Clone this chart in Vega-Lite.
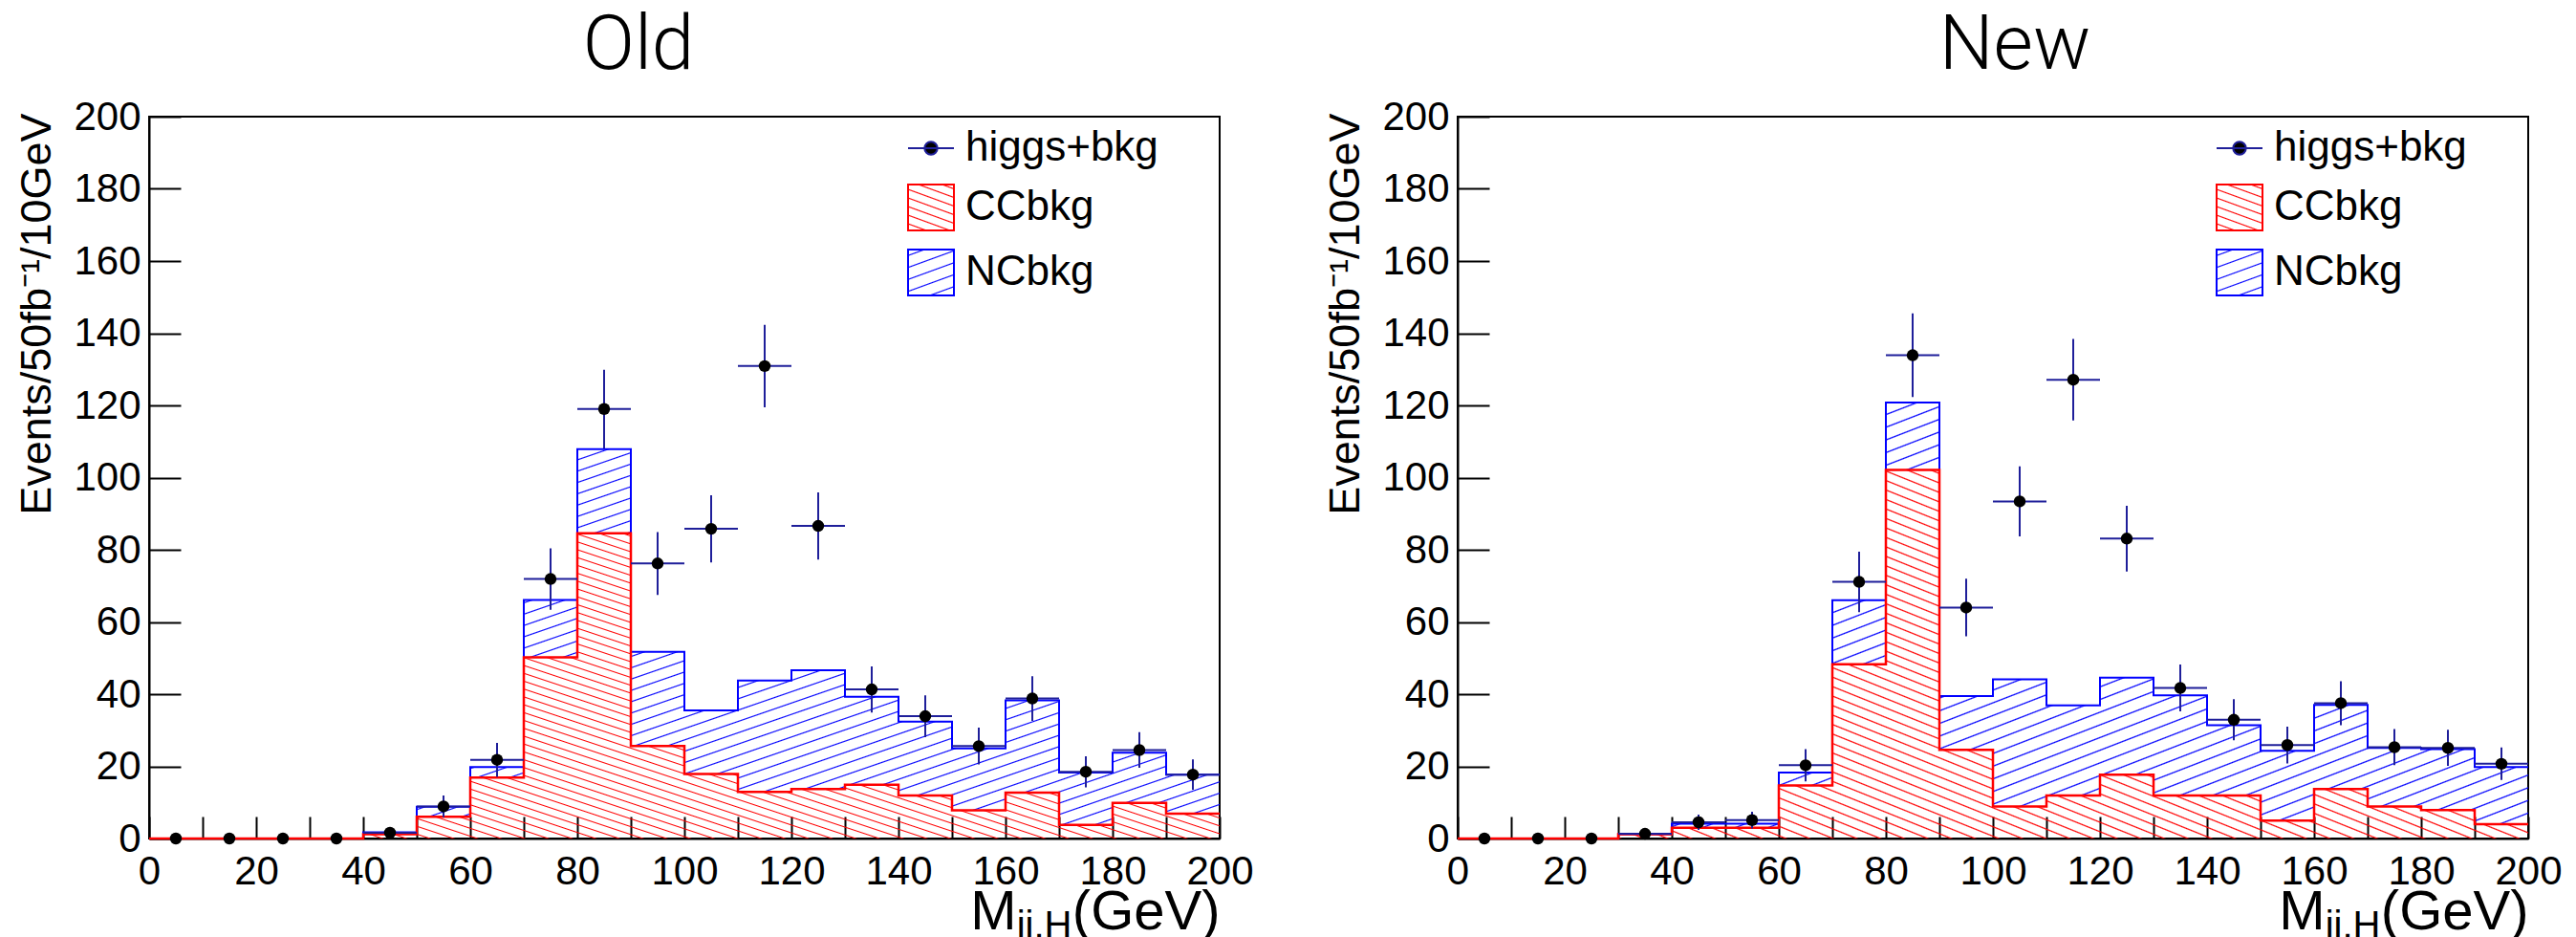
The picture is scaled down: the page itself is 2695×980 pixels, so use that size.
{
"$schema":"https://vega.github.io/schema/vega-lite/v6.json",
"padding":{"left":15,"top":7,"right":0,"bottom":0},
"spacing":249,
"bounds":"flush",
"resolve":{"scale":{"x":"independent","y":"independent","stroke":"independent"},"legend":{"stroke":"independent"}},
"datasets":{
"oh":[{"e":0,"cc":0,"tot":0},{"e":10,"cc":0,"tot":0},{"e":20,"cc":0,"tot":0},{"e":30,"cc":0,"tot":0},{"e":40,"cc":1.2,"tot":1.7},{"e":50,"cc":6,"tot":8.8},{"e":60,"cc":16.9,"tot":19.8},{"e":70,"cc":50.2,"tot":66.1},{"e":80,"cc":84.6,"tot":107.9},{"e":90,"cc":25.6,"tot":51.7},{"e":100,"cc":17.9,"tot":35.5},{"e":110,"cc":12.9,"tot":43.8},{"e":120,"cc":13.7,"tot":46.6},{"e":130,"cc":14.9,"tot":39.3},{"e":140,"cc":11.9,"tot":32.4},{"e":150,"cc":7.8,"tot":25},{"e":160,"cc":12.7,"tot":38.3},{"e":170,"cc":3.8,"tot":18.3},{"e":180,"cc":9.9,"tot":23.8},{"e":190,"cc":6.9,"tot":17.7},{"e":200,"cc":6.9,"tot":17.7}],
"op":[{"c":5,"l":0,"r":10,"n":0,"lo":0,"hi":0},{"c":15,"l":10,"r":20,"n":0,"lo":0,"hi":0},{"c":25,"l":20,"r":30,"n":0,"lo":0,"hi":0},{"c":35,"l":30,"r":40,"n":0,"lo":0,"hi":0},{"c":45,"l":40,"r":50,"n":1.6,"lo":0.3,"hi":2.9},{"c":55,"l":50,"r":60,"n":8.9,"lo":5.9,"hi":11.9},{"c":65,"l":60,"r":70,"n":21.8,"lo":17.1,"hi":26.5},{"c":75,"l":70,"r":80,"n":71.9,"lo":63.4,"hi":80.4},{"c":85,"l":80,"r":90,"n":119,"lo":108.1,"hi":129.9},{"c":95,"l":90,"r":100,"n":76.2,"lo":67.5,"hi":84.9},{"c":105,"l":100,"r":110,"n":85.8,"lo":76.5,"hi":95.1},{"c":115,"l":110,"r":120,"n":130.9,"lo":119.5,"hi":142.3},{"c":125,"l":120,"r":130,"n":86.6,"lo":77.3,"hi":95.9},{"c":135,"l":130,"r":140,"n":41.3,"lo":34.9,"hi":47.7},{"c":145,"l":140,"r":150,"n":33.9,"lo":28.1,"hi":39.7},{"c":155,"l":150,"r":160,"n":25.6,"lo":20.5,"hi":30.7},{"c":165,"l":160,"r":170,"n":38.8,"lo":32.6,"hi":45},{"c":175,"l":170,"r":180,"n":18.5,"lo":14.2,"hi":22.8},{"c":185,"l":180,"r":190,"n":24.5,"lo":19.6,"hi":29.5},{"c":195,"l":190,"r":200,"n":17.7,"lo":13.5,"hi":21.9}],
"nh":[{"e":0,"cc":0,"tot":0},{"e":10,"cc":0,"tot":0},{"e":20,"cc":0,"tot":0},{"e":30,"cc":1.2,"tot":1.2},{"e":40,"cc":3,"tot":4.1},{"e":50,"cc":3,"tot":4.1},{"e":60,"cc":14.7,"tot":18.3},{"e":70,"cc":48.3,"tot":66},{"e":80,"cc":102.1,"tot":120.8},{"e":90,"cc":24.6,"tot":39.5},{"e":100,"cc":8.9,"tot":44.1},{"e":110,"cc":11.9,"tot":36.9},{"e":120,"cc":17.7,"tot":44.6},{"e":130,"cc":11.9,"tot":39.7},{"e":140,"cc":11.9,"tot":31.4},{"e":150,"cc":5,"tot":24.3},{"e":160,"cc":13.7,"tot":37},{"e":170,"cc":8.9,"tot":25.1},{"e":180,"cc":7.9,"tot":24.8},{"e":190,"cc":4,"tot":19.8},{"e":200,"cc":4,"tot":19.8}],
"np":[{"c":5,"l":0,"r":10,"n":0,"lo":0,"hi":0},{"c":15,"l":10,"r":20,"n":0,"lo":0,"hi":0},{"c":25,"l":20,"r":30,"n":0,"lo":0,"hi":0},{"c":35,"l":30,"r":40,"n":1.3,"lo":0.2,"hi":2.4},{"c":45,"l":40,"r":50,"n":4.5,"lo":2.4,"hi":6.6},{"c":55,"l":50,"r":60,"n":5.1,"lo":2.8,"hi":7.4},{"c":65,"l":60,"r":70,"n":20.3,"lo":15.8,"hi":24.8},{"c":75,"l":70,"r":80,"n":71.1,"lo":62.7,"hi":79.5},{"c":85,"l":80,"r":90,"n":133.9,"lo":122.3,"hi":145.5},{"c":95,"l":90,"r":100,"n":64,"lo":56,"hi":72},{"c":105,"l":100,"r":110,"n":93.4,"lo":83.7,"hi":103.1},{"c":115,"l":110,"r":120,"n":127.1,"lo":115.8,"hi":138.4},{"c":125,"l":120,"r":130,"n":83.1,"lo":74,"hi":92.2},{"c":135,"l":130,"r":140,"n":41.7,"lo":35.2,"hi":48.2},{"c":145,"l":140,"r":150,"n":32.9,"lo":27.2,"hi":38.6},{"c":155,"l":150,"r":160,"n":25.9,"lo":20.8,"hi":31},{"c":165,"l":160,"r":170,"n":37.5,"lo":31.4,"hi":43.6},{"c":175,"l":170,"r":180,"n":25.3,"lo":20.3,"hi":30.3},{"c":185,"l":180,"r":190,"n":25.1,"lo":20.1,"hi":30.1},{"c":195,"l":190,"r":200,"n":20.7,"lo":16.2,"hi":25.2}]
},
"hconcat":[
{
"width":1120,"height":755,
"title":{"text":"Old","dx":-48},
"resolve":{"scale":{"x":"independent","y":"independent"}},
"layer":[
{"layer":[
{"data":{"name":"oh"},"mark":{"type":"area","interpolate":"step-after","fill":{"gradient":"linear","x1":-0.4601,"y1":0,"x2":0.9914,"y2":1.5312,"stops":[
{"offset":0.149,"color":"#00f0"},{"offset":0.15,"color":"blue"},{"offset":0.151,"color":"#00f0"},
{"offset":0.159,"color":"#00f0"},{"offset":0.16,"color":"blue"},{"offset":0.161,"color":"#00f0"},
{"offset":0.169,"color":"#00f0"},{"offset":0.17,"color":"blue"},{"offset":0.171,"color":"#00f0"},
{"offset":0.179,"color":"#00f0"},{"offset":0.18,"color":"blue"},{"offset":0.181,"color":"#00f0"},
{"offset":0.189,"color":"#00f0"},{"offset":0.19,"color":"blue"},{"offset":0.191,"color":"#00f0"},
{"offset":0.199,"color":"#00f0"},{"offset":0.2,"color":"blue"},{"offset":0.201,"color":"#00f0"},
{"offset":0.209,"color":"#00f0"},{"offset":0.21,"color":"blue"},{"offset":0.211,"color":"#00f0"},
{"offset":0.219,"color":"#00f0"},{"offset":0.22,"color":"blue"},{"offset":0.221,"color":"#00f0"},
{"offset":0.229,"color":"#00f0"},{"offset":0.23,"color":"blue"},{"offset":0.231,"color":"#00f0"},
{"offset":0.239,"color":"#00f0"},{"offset":0.24,"color":"blue"},{"offset":0.241,"color":"#00f0"},
{"offset":0.249,"color":"#00f0"},{"offset":0.25,"color":"blue"},{"offset":0.251,"color":"#00f0"},
{"offset":0.259,"color":"#00f0"},{"offset":0.26,"color":"blue"},{"offset":0.261,"color":"#00f0"},
{"offset":0.269,"color":"#00f0"},{"offset":0.27,"color":"blue"},{"offset":0.271,"color":"#00f0"},
{"offset":0.279,"color":"#00f0"},{"offset":0.28,"color":"blue"},{"offset":0.281,"color":"#00f0"},
{"offset":0.289,"color":"#00f0"},{"offset":0.29,"color":"blue"},{"offset":0.291,"color":"#00f0"},
{"offset":0.299,"color":"#00f0"},{"offset":0.3,"color":"blue"},{"offset":0.301,"color":"#00f0"},
{"offset":0.309,"color":"#00f0"},{"offset":0.31,"color":"blue"},{"offset":0.311,"color":"#00f0"},
{"offset":0.319,"color":"#00f0"},{"offset":0.32,"color":"blue"},{"offset":0.321,"color":"#00f0"},
{"offset":0.329,"color":"#00f0"},{"offset":0.33,"color":"blue"},{"offset":0.331,"color":"#00f0"},
{"offset":0.339,"color":"#00f0"},{"offset":0.34,"color":"blue"},{"offset":0.341,"color":"#00f0"},
{"offset":0.349,"color":"#00f0"},{"offset":0.35,"color":"blue"},{"offset":0.351,"color":"#00f0"},
{"offset":0.359,"color":"#00f0"},{"offset":0.36,"color":"blue"},{"offset":0.361,"color":"#00f0"},
{"offset":0.369,"color":"#00f0"},{"offset":0.37,"color":"blue"},{"offset":0.371,"color":"#00f0"},
{"offset":0.379,"color":"#00f0"},{"offset":0.38,"color":"blue"},{"offset":0.381,"color":"#00f0"},
{"offset":0.389,"color":"#00f0"},{"offset":0.39,"color":"blue"},{"offset":0.391,"color":"#00f0"},
{"offset":0.399,"color":"#00f0"},{"offset":0.4,"color":"blue"},{"offset":0.401,"color":"#00f0"},
{"offset":0.409,"color":"#00f0"},{"offset":0.41,"color":"blue"},{"offset":0.411,"color":"#00f0"},
{"offset":0.419,"color":"#00f0"},{"offset":0.42,"color":"blue"},{"offset":0.421,"color":"#00f0"},
{"offset":0.429,"color":"#00f0"},{"offset":0.43,"color":"blue"},{"offset":0.431,"color":"#00f0"},
{"offset":0.439,"color":"#00f0"},{"offset":0.44,"color":"blue"},{"offset":0.441,"color":"#00f0"},
{"offset":0.449,"color":"#00f0"},{"offset":0.45,"color":"blue"},{"offset":0.451,"color":"#00f0"},
{"offset":0.459,"color":"#00f0"},{"offset":0.46,"color":"blue"},{"offset":0.461,"color":"#00f0"},
{"offset":0.469,"color":"#00f0"},{"offset":0.47,"color":"blue"},{"offset":0.471,"color":"#00f0"},
{"offset":0.479,"color":"#00f0"},{"offset":0.48,"color":"blue"},{"offset":0.481,"color":"#00f0"},
{"offset":0.489,"color":"#00f0"},{"offset":0.49,"color":"blue"},{"offset":0.491,"color":"#00f0"},
{"offset":0.499,"color":"#00f0"},{"offset":0.5,"color":"blue"},{"offset":0.501,"color":"#00f0"},
{"offset":0.509,"color":"#00f0"},{"offset":0.51,"color":"blue"},{"offset":0.511,"color":"#00f0"},
{"offset":0.519,"color":"#00f0"},{"offset":0.52,"color":"blue"},{"offset":0.521,"color":"#00f0"},
{"offset":0.529,"color":"#00f0"},{"offset":0.53,"color":"blue"},{"offset":0.531,"color":"#00f0"},
{"offset":0.539,"color":"#00f0"},{"offset":0.54,"color":"blue"},{"offset":0.541,"color":"#00f0"},
{"offset":0.549,"color":"#00f0"},{"offset":0.55,"color":"blue"},{"offset":0.551,"color":"#00f0"},
{"offset":0.559,"color":"#00f0"},{"offset":0.56,"color":"blue"},{"offset":0.561,"color":"#00f0"},
{"offset":0.569,"color":"#00f0"},{"offset":0.57,"color":"blue"},{"offset":0.571,"color":"#00f0"},
{"offset":0.579,"color":"#00f0"},{"offset":0.58,"color":"blue"},{"offset":0.581,"color":"#00f0"},
{"offset":0.589,"color":"#00f0"},{"offset":0.59,"color":"blue"},{"offset":0.591,"color":"#00f0"},
{"offset":0.599,"color":"#00f0"},{"offset":0.6,"color":"blue"},{"offset":0.601,"color":"#00f0"},
{"offset":0.609,"color":"#00f0"},{"offset":0.61,"color":"blue"},{"offset":0.611,"color":"#00f0"},
{"offset":0.619,"color":"#00f0"},{"offset":0.62,"color":"blue"},{"offset":0.621,"color":"#00f0"},
{"offset":0.629,"color":"#00f0"},{"offset":0.63,"color":"blue"},{"offset":0.631,"color":"#00f0"},
{"offset":0.639,"color":"#00f0"},{"offset":0.64,"color":"blue"},{"offset":0.641,"color":"#00f0"},
{"offset":0.649,"color":"#00f0"},{"offset":0.65,"color":"blue"},{"offset":0.651,"color":"#00f0"},
{"offset":0.659,"color":"#00f0"},{"offset":0.66,"color":"blue"},{"offset":0.661,"color":"#00f0"},
{"offset":0.669,"color":"#00f0"},{"offset":0.67,"color":"blue"},{"offset":0.671,"color":"#00f0"},
{"offset":0.679,"color":"#00f0"},{"offset":0.68,"color":"blue"},{"offset":0.681,"color":"#00f0"},
{"offset":0.689,"color":"#00f0"},{"offset":0.69,"color":"blue"},{"offset":0.691,"color":"#00f0"},
{"offset":0.699,"color":"#00f0"},{"offset":0.7,"color":"blue"},{"offset":0.701,"color":"#00f0"},
{"offset":0.709,"color":"#00f0"},{"offset":0.71,"color":"blue"},{"offset":0.711,"color":"#00f0"},
{"offset":0.719,"color":"#00f0"},{"offset":0.72,"color":"blue"},{"offset":0.721,"color":"#00f0"},
{"offset":0.729,"color":"#00f0"},{"offset":0.73,"color":"blue"},{"offset":0.731,"color":"#00f0"},
{"offset":0.739,"color":"#00f0"},{"offset":0.74,"color":"blue"},{"offset":0.741,"color":"#00f0"},
{"offset":0.749,"color":"#00f0"},{"offset":0.75,"color":"blue"},{"offset":0.751,"color":"#00f0"},
{"offset":0.759,"color":"#00f0"},{"offset":0.76,"color":"blue"},{"offset":0.761,"color":"#00f0"},
{"offset":0.769,"color":"#00f0"},{"offset":0.77,"color":"blue"},{"offset":0.771,"color":"#00f0"},
{"offset":0.779,"color":"#00f0"},{"offset":0.78,"color":"blue"},{"offset":0.781,"color":"#00f0"},
{"offset":0.789,"color":"#00f0"},{"offset":0.79,"color":"blue"},{"offset":0.791,"color":"#00f0"},
{"offset":0.799,"color":"#00f0"},{"offset":0.8,"color":"blue"},{"offset":0.801,"color":"#00f0"},
{"offset":0.809,"color":"#00f0"},{"offset":0.81,"color":"blue"},{"offset":0.811,"color":"#00f0"},
{"offset":0.819,"color":"#00f0"},{"offset":0.82,"color":"blue"},{"offset":0.821,"color":"#00f0"}
]}},
"encoding":{
"x":{"field":"e","type":"quantitative","scale":{"domain":[0,200]},"axis":{"orient":"bottom","values":[0,5,10,15,20,25,30,35,40,45,50,55,60,65,70,75,80,85,90,95,100,105,110,115,120,125,130,135,140,145,150,155,160,165,170,175,180,185,190,195,200],"labelExpr":"datum.value % 20 === 0 ? datum.label : ''","tickSize":-23,"labelPadding":37,"title":"(GeV)","titleX":1120,"titleY":94,"titleAlign":"right","titleBaseline":"alphabetic","titleFontSize":58,"encode":{"ticks":{"update":{"y2":[{"test":"datum.value % 20 === 0","value":-23},{"value":-11}]}}}}},
"y":{"field":"tot","type":"quantitative","scale":{"domain":[0,200]},"axis":{"orient":"left","values":[0,5,10,15,20,25,30,35,40,45,50,55,60,65,70,75,80,85,90,95,100,105,110,115,120,125,130,135,140,145,150,155,160,165,170,175,180,185,190,195,200],"labelExpr":"datum.value % 20 === 0 ? datum.label : ''","tickSize":-33,"labelPadding":42,"title":"Events/50fb⁻¹/10GeV","titleX":-104,"titleY":-4,"titleAlign":"right","titleAngle":270,"titleBaseline":"alphabetic","titleFontSize":45,"encode":{"ticks":{"update":{"x2":[{"test":"datum.value % 20 === 0","value":33},{"value":17}]}}}}},
"y2":{"field":"cc"}}},
{"data":{"name":"oh"},"mark":{"type":"area","interpolate":"step-after","fill":{"gradient":"linear","x1":1.1045,"y1":0,"x2":-0.1668,"y2":1.0918,"stops":[
{"offset":0.0387,"color":"#f000"},{"offset":0.04,"color":"red"},{"offset":0.0413,"color":"#f000"},
{"offset":0.0487,"color":"#f000"},{"offset":0.05,"color":"red"},{"offset":0.0513,"color":"#f000"},
{"offset":0.0587,"color":"#f000"},{"offset":0.06,"color":"red"},{"offset":0.0613,"color":"#f000"},
{"offset":0.0687,"color":"#f000"},{"offset":0.07,"color":"red"},{"offset":0.0713,"color":"#f000"},
{"offset":0.0787,"color":"#f000"},{"offset":0.08,"color":"red"},{"offset":0.0813,"color":"#f000"},
{"offset":0.0887,"color":"#f000"},{"offset":0.09,"color":"red"},{"offset":0.0913,"color":"#f000"},
{"offset":0.0987,"color":"#f000"},{"offset":0.1,"color":"red"},{"offset":0.1013,"color":"#f000"},
{"offset":0.1087,"color":"#f000"},{"offset":0.11,"color":"red"},{"offset":0.1113,"color":"#f000"},
{"offset":0.1187,"color":"#f000"},{"offset":0.12,"color":"red"},{"offset":0.1213,"color":"#f000"},
{"offset":0.1287,"color":"#f000"},{"offset":0.13,"color":"red"},{"offset":0.1313,"color":"#f000"},
{"offset":0.1387,"color":"#f000"},{"offset":0.14,"color":"red"},{"offset":0.1413,"color":"#f000"},
{"offset":0.1487,"color":"#f000"},{"offset":0.15,"color":"red"},{"offset":0.1513,"color":"#f000"},
{"offset":0.1587,"color":"#f000"},{"offset":0.16,"color":"red"},{"offset":0.1613,"color":"#f000"},
{"offset":0.1687,"color":"#f000"},{"offset":0.17,"color":"red"},{"offset":0.1713,"color":"#f000"},
{"offset":0.1787,"color":"#f000"},{"offset":0.18,"color":"red"},{"offset":0.1813,"color":"#f000"},
{"offset":0.1887,"color":"#f000"},{"offset":0.19,"color":"red"},{"offset":0.1913,"color":"#f000"},
{"offset":0.1987,"color":"#f000"},{"offset":0.2,"color":"red"},{"offset":0.2013,"color":"#f000"},
{"offset":0.2087,"color":"#f000"},{"offset":0.21,"color":"red"},{"offset":0.2113,"color":"#f000"},
{"offset":0.2187,"color":"#f000"},{"offset":0.22,"color":"red"},{"offset":0.2213,"color":"#f000"},
{"offset":0.2287,"color":"#f000"},{"offset":0.23,"color":"red"},{"offset":0.2313,"color":"#f000"},
{"offset":0.2387,"color":"#f000"},{"offset":0.24,"color":"red"},{"offset":0.2413,"color":"#f000"},
{"offset":0.2487,"color":"#f000"},{"offset":0.25,"color":"red"},{"offset":0.2513,"color":"#f000"},
{"offset":0.2587,"color":"#f000"},{"offset":0.26,"color":"red"},{"offset":0.2613,"color":"#f000"},
{"offset":0.2687,"color":"#f000"},{"offset":0.27,"color":"red"},{"offset":0.2713,"color":"#f000"},
{"offset":0.2787,"color":"#f000"},{"offset":0.28,"color":"red"},{"offset":0.2813,"color":"#f000"},
{"offset":0.2887,"color":"#f000"},{"offset":0.29,"color":"red"},{"offset":0.2913,"color":"#f000"},
{"offset":0.2987,"color":"#f000"},{"offset":0.3,"color":"red"},{"offset":0.3013,"color":"#f000"},
{"offset":0.3087,"color":"#f000"},{"offset":0.31,"color":"red"},{"offset":0.3113,"color":"#f000"},
{"offset":0.3187,"color":"#f000"},{"offset":0.32,"color":"red"},{"offset":0.3213,"color":"#f000"},
{"offset":0.3287,"color":"#f000"},{"offset":0.33,"color":"red"},{"offset":0.3313,"color":"#f000"},
{"offset":0.3387,"color":"#f000"},{"offset":0.34,"color":"red"},{"offset":0.3413,"color":"#f000"},
{"offset":0.3487,"color":"#f000"},{"offset":0.35,"color":"red"},{"offset":0.3513,"color":"#f000"},
{"offset":0.3587,"color":"#f000"},{"offset":0.36,"color":"red"},{"offset":0.3613,"color":"#f000"},
{"offset":0.3687,"color":"#f000"},{"offset":0.37,"color":"red"},{"offset":0.3713,"color":"#f000"},
{"offset":0.3787,"color":"#f000"},{"offset":0.38,"color":"red"},{"offset":0.3813,"color":"#f000"},
{"offset":0.3887,"color":"#f000"},{"offset":0.39,"color":"red"},{"offset":0.3913,"color":"#f000"},
{"offset":0.3987,"color":"#f000"},{"offset":0.4,"color":"red"},{"offset":0.4013,"color":"#f000"},
{"offset":0.4087,"color":"#f000"},{"offset":0.41,"color":"red"},{"offset":0.4113,"color":"#f000"},
{"offset":0.4187,"color":"#f000"},{"offset":0.42,"color":"red"},{"offset":0.4213,"color":"#f000"},
{"offset":0.4287,"color":"#f000"},{"offset":0.43,"color":"red"},{"offset":0.4313,"color":"#f000"},
{"offset":0.4387,"color":"#f000"},{"offset":0.44,"color":"red"},{"offset":0.4413,"color":"#f000"},
{"offset":0.4487,"color":"#f000"},{"offset":0.45,"color":"red"},{"offset":0.4513,"color":"#f000"},
{"offset":0.4587,"color":"#f000"},{"offset":0.46,"color":"red"},{"offset":0.4613,"color":"#f000"},
{"offset":0.4687,"color":"#f000"},{"offset":0.47,"color":"red"},{"offset":0.4713,"color":"#f000"},
{"offset":0.4787,"color":"#f000"},{"offset":0.48,"color":"red"},{"offset":0.4813,"color":"#f000"},
{"offset":0.4887,"color":"#f000"},{"offset":0.49,"color":"red"},{"offset":0.4913,"color":"#f000"},
{"offset":0.4987,"color":"#f000"},{"offset":0.5,"color":"red"},{"offset":0.5013,"color":"#f000"},
{"offset":0.5087,"color":"#f000"},{"offset":0.51,"color":"red"},{"offset":0.5113,"color":"#f000"},
{"offset":0.5187,"color":"#f000"},{"offset":0.52,"color":"red"},{"offset":0.5213,"color":"#f000"},
{"offset":0.5287,"color":"#f000"},{"offset":0.53,"color":"red"},{"offset":0.5313,"color":"#f000"},
{"offset":0.5387,"color":"#f000"},{"offset":0.54,"color":"red"},{"offset":0.5413,"color":"#f000"},
{"offset":0.5487,"color":"#f000"},{"offset":0.55,"color":"red"},{"offset":0.5513,"color":"#f000"},
{"offset":0.5587,"color":"#f000"},{"offset":0.56,"color":"red"},{"offset":0.5613,"color":"#f000"},
{"offset":0.5687,"color":"#f000"},{"offset":0.57,"color":"red"},{"offset":0.5713,"color":"#f000"},
{"offset":0.5787,"color":"#f000"},{"offset":0.58,"color":"red"},{"offset":0.5813,"color":"#f000"},
{"offset":0.5887,"color":"#f000"},{"offset":0.59,"color":"red"},{"offset":0.5913,"color":"#f000"},
{"offset":0.5987,"color":"#f000"},{"offset":0.6,"color":"red"},{"offset":0.6013,"color":"#f000"},
{"offset":0.6087,"color":"#f000"},{"offset":0.61,"color":"red"},{"offset":0.6113,"color":"#f000"},
{"offset":0.6187,"color":"#f000"},{"offset":0.62,"color":"red"},{"offset":0.6213,"color":"#f000"},
{"offset":0.6287,"color":"#f000"},{"offset":0.63,"color":"red"},{"offset":0.6313,"color":"#f000"},
{"offset":0.6387,"color":"#f000"},{"offset":0.64,"color":"red"},{"offset":0.6413,"color":"#f000"},
{"offset":0.6487,"color":"#f000"},{"offset":0.65,"color":"red"},{"offset":0.6513,"color":"#f000"},
{"offset":0.6587,"color":"#f000"},{"offset":0.66,"color":"red"},{"offset":0.6613,"color":"#f000"},
{"offset":0.6687,"color":"#f000"},{"offset":0.67,"color":"red"},{"offset":0.6713,"color":"#f000"},
{"offset":0.6787,"color":"#f000"},{"offset":0.68,"color":"red"},{"offset":0.6813,"color":"#f000"},
{"offset":0.6887,"color":"#f000"},{"offset":0.69,"color":"red"},{"offset":0.6913,"color":"#f000"},
{"offset":0.6987,"color":"#f000"},{"offset":0.7,"color":"red"},{"offset":0.7013,"color":"#f000"},
{"offset":0.7087,"color":"#f000"},{"offset":0.71,"color":"red"},{"offset":0.7113,"color":"#f000"},
{"offset":0.7187,"color":"#f000"},{"offset":0.72,"color":"red"},{"offset":0.7213,"color":"#f000"},
{"offset":0.7287,"color":"#f000"},{"offset":0.73,"color":"red"},{"offset":0.7313,"color":"#f000"},
{"offset":0.7387,"color":"#f000"},{"offset":0.74,"color":"red"},{"offset":0.7413,"color":"#f000"},
{"offset":0.7487,"color":"#f000"},{"offset":0.75,"color":"red"},{"offset":0.7513,"color":"#f000"},
{"offset":0.7587,"color":"#f000"},{"offset":0.76,"color":"red"},{"offset":0.7613,"color":"#f000"},
{"offset":0.7687,"color":"#f000"},{"offset":0.77,"color":"red"},{"offset":0.7713,"color":"#f000"},
{"offset":0.7787,"color":"#f000"},{"offset":0.78,"color":"red"},{"offset":0.7813,"color":"#f000"},
{"offset":0.7887,"color":"#f000"},{"offset":0.79,"color":"red"},{"offset":0.7913,"color":"#f000"},
{"offset":0.7987,"color":"#f000"},{"offset":0.8,"color":"red"},{"offset":0.8013,"color":"#f000"},
{"offset":0.8087,"color":"#f000"},{"offset":0.81,"color":"red"},{"offset":0.8113,"color":"#f000"},
{"offset":0.8187,"color":"#f000"},{"offset":0.82,"color":"red"},{"offset":0.8213,"color":"#f000"},
{"offset":0.8287,"color":"#f000"},{"offset":0.83,"color":"red"},{"offset":0.8313,"color":"#f000"},
{"offset":0.8387,"color":"#f000"},{"offset":0.84,"color":"red"},{"offset":0.8413,"color":"#f000"},
{"offset":0.8487,"color":"#f000"},{"offset":0.85,"color":"red"},{"offset":0.8513,"color":"#f000"},
{"offset":0.8587,"color":"#f000"},{"offset":0.86,"color":"red"},{"offset":0.8613,"color":"#f000"},
{"offset":0.8687,"color":"#f000"},{"offset":0.87,"color":"red"},{"offset":0.8713,"color":"#f000"},
{"offset":0.8787,"color":"#f000"},{"offset":0.88,"color":"red"},{"offset":0.8813,"color":"#f000"},
{"offset":0.8887,"color":"#f000"},{"offset":0.89,"color":"red"},{"offset":0.8913,"color":"#f000"}
]}},
"encoding":{"x":{"field":"e","type":"quantitative"},"y":{"field":"cc","type":"quantitative"}}},
{"data":{"name":"oh"},"mark":{"type":"line","interpolate":"step-after","strokeWidth":2},
"encoding":{"x":{"field":"e","type":"quantitative"},"y":{"field":"tot","type":"quantitative"},
"stroke":{"datum":"NCbkg","type":"nominal","scale":{"domain":["higgs+bkg","CCbkg","NCbkg"],"range":["#1f1f9a","red","blue"]},
"legend":{"orient":"none","legendX":793,"legendY":8,"direction":"vertical","title":null,"padding":0,"labelFont":"Liberation Sans","labelFontSize":44,"labelColor":"black","labelLimit":0,"labelOffset":11,"labelBaseline":"middle","rowPadding":12,"symbolSize":2304,"symbolStrokeWidth":2,
"encode":{"symbols":{"update":{
"shape":[{"test":"datum.value === 'higgs+bkg'","value":"M-1,0H1M-0.28,0A0.28,0.28 0 1 0 0.28,0A0.28,0.28 0 1 0 -0.28,0Z"},{"value":"square"}],
"size":{"value":2304},"strokeWidth":{"value":2},"opacity":{"value":1},"fillOpacity":{"value":1},"strokeOpacity":{"value":1},
"stroke":[{"test":"datum.value === 'higgs+bkg'","value":"#1f1f9a"},{"test":"datum.value === 'CCbkg'","value":"red"},{"value":"blue"}],
"fill":[{"test":"datum.value === 'higgs+bkg'","value":"black"},
{"test":"datum.value === 'CCbkg'","value":{"gradient":"linear","x1":1,"y1":0,"x2":0.397,"y2":1.656,"stops":[{"offset":0.037,"color":"#f000"},{"offset":0.05,"color":"red"},{"offset":0.063,"color":"#f000"},{"offset":0.137,"color":"#f000"},{"offset":0.15,"color":"red"},{"offset":0.163,"color":"#f000"},{"offset":0.237,"color":"#f000"},{"offset":0.25,"color":"red"},{"offset":0.263,"color":"#f000"},{"offset":0.337,"color":"#f000"},{"offset":0.35,"color":"red"},{"offset":0.363,"color":"#f000"},{"offset":0.437,"color":"#f000"},{"offset":0.45,"color":"red"},{"offset":0.463,"color":"#f000"},{"offset":0.537,"color":"#f000"},{"offset":0.55,"color":"red"},{"offset":0.563,"color":"#f000"},{"offset":0.637,"color":"#f000"},{"offset":0.65,"color":"red"},{"offset":0.663,"color":"#f000"}]}},
{"value":{"gradient":"linear","x1":0,"y1":0,"x2":0.8375,"y2":2.301,"stops":[{"offset":0.0406,"color":"#00f0"},{"offset":0.05,"color":"blue"},{"offset":0.0594,"color":"#00f0"},{"offset":0.1406,"color":"#00f0"},{"offset":0.15,"color":"blue"},{"offset":0.1594,"color":"#00f0"},{"offset":0.2406,"color":"#00f0"},{"offset":0.25,"color":"blue"},{"offset":0.2594,"color":"#00f0"},{"offset":0.3406,"color":"#00f0"},{"offset":0.35,"color":"blue"},{"offset":0.3594,"color":"#00f0"},{"offset":0.4406,"color":"#00f0"},{"offset":0.45,"color":"blue"},{"offset":0.4594,"color":"#00f0"}]}}]
}}}}}}},
{"data":{"name":"oh"},"mark":{"type":"line","interpolate":"step-after","strokeWidth":2.5},
"encoding":{"x":{"field":"e","type":"quantitative"},"y":{"field":"cc","type":"quantitative"},"stroke":{"datum":"CCbkg","type":"nominal"}}},
{"data":{"name":"op"},"transform":[{"filter":"datum.n > 0"}],"mark":{"type":"rule","strokeWidth":2},
"encoding":{"x":{"field":"l","type":"quantitative"},"x2":{"field":"r"},"y":{"field":"n","type":"quantitative"},"stroke":{"datum":"higgs+bkg","type":"nominal"}}},
{"data":{"name":"op"},"transform":[{"filter":"datum.n > 0"}],"mark":{"type":"rule","strokeWidth":2},
"encoding":{"x":{"field":"c","type":"quantitative"},"y":{"field":"lo","type":"quantitative"},"y2":{"field":"hi"},"stroke":{"datum":"higgs+bkg","type":"nominal"}}}
]},
{"data":{"name":"op"},"mark":{"type":"point","shape":"circle","filled":true,"color":"black","size":155,"opacity":1,"strokeWidth":0},
"encoding":{
"x":{"field":"c","type":"quantitative","scale":{"domain":[0,200]},"axis":{"orient":"top","title":"jj,H","titleX":965,"titleY":858,"titleAlign":"right","titleBaseline":"alphabetic","titleFontSize":40,"domain":false,"ticks":false,"labels":false}},
"y":{"field":"n","type":"quantitative","scale":{"domain":[0,200]},"axis":{"orient":"right","title":"M","titleAngle":0,"titleX":-213,"titleY":849,"titleAlign":"right","titleBaseline":"alphabetic","titleFontSize":58,"domain":false,"ticks":false,"labels":false}}}}
]
},
{
"width":1120,"height":755,
"title":{"text":"New","dx":23},
"resolve":{"scale":{"x":"independent","y":"independent"}},
"layer":[
{"layer":[
{"data":{"name":"nh"},"mark":{"type":"area","interpolate":"step-after","fill":{"gradient":"linear","x1":-0.4601,"y1":0,"x2":0.9914,"y2":1.5312,"stops":[
{"offset":0.149,"color":"#00f0"},{"offset":0.15,"color":"blue"},{"offset":0.151,"color":"#00f0"},
{"offset":0.159,"color":"#00f0"},{"offset":0.16,"color":"blue"},{"offset":0.161,"color":"#00f0"},
{"offset":0.169,"color":"#00f0"},{"offset":0.17,"color":"blue"},{"offset":0.171,"color":"#00f0"},
{"offset":0.179,"color":"#00f0"},{"offset":0.18,"color":"blue"},{"offset":0.181,"color":"#00f0"},
{"offset":0.189,"color":"#00f0"},{"offset":0.19,"color":"blue"},{"offset":0.191,"color":"#00f0"},
{"offset":0.199,"color":"#00f0"},{"offset":0.2,"color":"blue"},{"offset":0.201,"color":"#00f0"},
{"offset":0.209,"color":"#00f0"},{"offset":0.21,"color":"blue"},{"offset":0.211,"color":"#00f0"},
{"offset":0.219,"color":"#00f0"},{"offset":0.22,"color":"blue"},{"offset":0.221,"color":"#00f0"},
{"offset":0.229,"color":"#00f0"},{"offset":0.23,"color":"blue"},{"offset":0.231,"color":"#00f0"},
{"offset":0.239,"color":"#00f0"},{"offset":0.24,"color":"blue"},{"offset":0.241,"color":"#00f0"},
{"offset":0.249,"color":"#00f0"},{"offset":0.25,"color":"blue"},{"offset":0.251,"color":"#00f0"},
{"offset":0.259,"color":"#00f0"},{"offset":0.26,"color":"blue"},{"offset":0.261,"color":"#00f0"},
{"offset":0.269,"color":"#00f0"},{"offset":0.27,"color":"blue"},{"offset":0.271,"color":"#00f0"},
{"offset":0.279,"color":"#00f0"},{"offset":0.28,"color":"blue"},{"offset":0.281,"color":"#00f0"},
{"offset":0.289,"color":"#00f0"},{"offset":0.29,"color":"blue"},{"offset":0.291,"color":"#00f0"},
{"offset":0.299,"color":"#00f0"},{"offset":0.3,"color":"blue"},{"offset":0.301,"color":"#00f0"},
{"offset":0.309,"color":"#00f0"},{"offset":0.31,"color":"blue"},{"offset":0.311,"color":"#00f0"},
{"offset":0.319,"color":"#00f0"},{"offset":0.32,"color":"blue"},{"offset":0.321,"color":"#00f0"},
{"offset":0.329,"color":"#00f0"},{"offset":0.33,"color":"blue"},{"offset":0.331,"color":"#00f0"},
{"offset":0.339,"color":"#00f0"},{"offset":0.34,"color":"blue"},{"offset":0.341,"color":"#00f0"},
{"offset":0.349,"color":"#00f0"},{"offset":0.35,"color":"blue"},{"offset":0.351,"color":"#00f0"},
{"offset":0.359,"color":"#00f0"},{"offset":0.36,"color":"blue"},{"offset":0.361,"color":"#00f0"},
{"offset":0.369,"color":"#00f0"},{"offset":0.37,"color":"blue"},{"offset":0.371,"color":"#00f0"},
{"offset":0.379,"color":"#00f0"},{"offset":0.38,"color":"blue"},{"offset":0.381,"color":"#00f0"},
{"offset":0.389,"color":"#00f0"},{"offset":0.39,"color":"blue"},{"offset":0.391,"color":"#00f0"},
{"offset":0.399,"color":"#00f0"},{"offset":0.4,"color":"blue"},{"offset":0.401,"color":"#00f0"},
{"offset":0.409,"color":"#00f0"},{"offset":0.41,"color":"blue"},{"offset":0.411,"color":"#00f0"},
{"offset":0.419,"color":"#00f0"},{"offset":0.42,"color":"blue"},{"offset":0.421,"color":"#00f0"},
{"offset":0.429,"color":"#00f0"},{"offset":0.43,"color":"blue"},{"offset":0.431,"color":"#00f0"},
{"offset":0.439,"color":"#00f0"},{"offset":0.44,"color":"blue"},{"offset":0.441,"color":"#00f0"},
{"offset":0.449,"color":"#00f0"},{"offset":0.45,"color":"blue"},{"offset":0.451,"color":"#00f0"},
{"offset":0.459,"color":"#00f0"},{"offset":0.46,"color":"blue"},{"offset":0.461,"color":"#00f0"},
{"offset":0.469,"color":"#00f0"},{"offset":0.47,"color":"blue"},{"offset":0.471,"color":"#00f0"},
{"offset":0.479,"color":"#00f0"},{"offset":0.48,"color":"blue"},{"offset":0.481,"color":"#00f0"},
{"offset":0.489,"color":"#00f0"},{"offset":0.49,"color":"blue"},{"offset":0.491,"color":"#00f0"},
{"offset":0.499,"color":"#00f0"},{"offset":0.5,"color":"blue"},{"offset":0.501,"color":"#00f0"},
{"offset":0.509,"color":"#00f0"},{"offset":0.51,"color":"blue"},{"offset":0.511,"color":"#00f0"},
{"offset":0.519,"color":"#00f0"},{"offset":0.52,"color":"blue"},{"offset":0.521,"color":"#00f0"},
{"offset":0.529,"color":"#00f0"},{"offset":0.53,"color":"blue"},{"offset":0.531,"color":"#00f0"},
{"offset":0.539,"color":"#00f0"},{"offset":0.54,"color":"blue"},{"offset":0.541,"color":"#00f0"},
{"offset":0.549,"color":"#00f0"},{"offset":0.55,"color":"blue"},{"offset":0.551,"color":"#00f0"},
{"offset":0.559,"color":"#00f0"},{"offset":0.56,"color":"blue"},{"offset":0.561,"color":"#00f0"},
{"offset":0.569,"color":"#00f0"},{"offset":0.57,"color":"blue"},{"offset":0.571,"color":"#00f0"},
{"offset":0.579,"color":"#00f0"},{"offset":0.58,"color":"blue"},{"offset":0.581,"color":"#00f0"},
{"offset":0.589,"color":"#00f0"},{"offset":0.59,"color":"blue"},{"offset":0.591,"color":"#00f0"},
{"offset":0.599,"color":"#00f0"},{"offset":0.6,"color":"blue"},{"offset":0.601,"color":"#00f0"},
{"offset":0.609,"color":"#00f0"},{"offset":0.61,"color":"blue"},{"offset":0.611,"color":"#00f0"},
{"offset":0.619,"color":"#00f0"},{"offset":0.62,"color":"blue"},{"offset":0.621,"color":"#00f0"},
{"offset":0.629,"color":"#00f0"},{"offset":0.63,"color":"blue"},{"offset":0.631,"color":"#00f0"},
{"offset":0.639,"color":"#00f0"},{"offset":0.64,"color":"blue"},{"offset":0.641,"color":"#00f0"},
{"offset":0.649,"color":"#00f0"},{"offset":0.65,"color":"blue"},{"offset":0.651,"color":"#00f0"},
{"offset":0.659,"color":"#00f0"},{"offset":0.66,"color":"blue"},{"offset":0.661,"color":"#00f0"},
{"offset":0.669,"color":"#00f0"},{"offset":0.67,"color":"blue"},{"offset":0.671,"color":"#00f0"},
{"offset":0.679,"color":"#00f0"},{"offset":0.68,"color":"blue"},{"offset":0.681,"color":"#00f0"},
{"offset":0.689,"color":"#00f0"},{"offset":0.69,"color":"blue"},{"offset":0.691,"color":"#00f0"},
{"offset":0.699,"color":"#00f0"},{"offset":0.7,"color":"blue"},{"offset":0.701,"color":"#00f0"},
{"offset":0.709,"color":"#00f0"},{"offset":0.71,"color":"blue"},{"offset":0.711,"color":"#00f0"},
{"offset":0.719,"color":"#00f0"},{"offset":0.72,"color":"blue"},{"offset":0.721,"color":"#00f0"},
{"offset":0.729,"color":"#00f0"},{"offset":0.73,"color":"blue"},{"offset":0.731,"color":"#00f0"},
{"offset":0.739,"color":"#00f0"},{"offset":0.74,"color":"blue"},{"offset":0.741,"color":"#00f0"},
{"offset":0.749,"color":"#00f0"},{"offset":0.75,"color":"blue"},{"offset":0.751,"color":"#00f0"},
{"offset":0.759,"color":"#00f0"},{"offset":0.76,"color":"blue"},{"offset":0.761,"color":"#00f0"},
{"offset":0.769,"color":"#00f0"},{"offset":0.77,"color":"blue"},{"offset":0.771,"color":"#00f0"},
{"offset":0.779,"color":"#00f0"},{"offset":0.78,"color":"blue"},{"offset":0.781,"color":"#00f0"},
{"offset":0.789,"color":"#00f0"},{"offset":0.79,"color":"blue"},{"offset":0.791,"color":"#00f0"},
{"offset":0.799,"color":"#00f0"},{"offset":0.8,"color":"blue"},{"offset":0.801,"color":"#00f0"},
{"offset":0.809,"color":"#00f0"},{"offset":0.81,"color":"blue"},{"offset":0.811,"color":"#00f0"},
{"offset":0.819,"color":"#00f0"},{"offset":0.82,"color":"blue"},{"offset":0.821,"color":"#00f0"}
]}},
"encoding":{
"x":{"field":"e","type":"quantitative","scale":{"domain":[0,200]},"axis":{"orient":"bottom","values":[0,5,10,15,20,25,30,35,40,45,50,55,60,65,70,75,80,85,90,95,100,105,110,115,120,125,130,135,140,145,150,155,160,165,170,175,180,185,190,195,200],"labelExpr":"datum.value % 20 === 0 ? datum.label : ''","tickSize":-23,"labelPadding":37,"title":"(GeV)","titleX":1120,"titleY":94,"titleAlign":"right","titleBaseline":"alphabetic","titleFontSize":58,"encode":{"ticks":{"update":{"y2":[{"test":"datum.value % 20 === 0","value":-23},{"value":-11}]}}}}},
"y":{"field":"tot","type":"quantitative","scale":{"domain":[0,200]},"axis":{"orient":"left","values":[0,5,10,15,20,25,30,35,40,45,50,55,60,65,70,75,80,85,90,95,100,105,110,115,120,125,130,135,140,145,150,155,160,165,170,175,180,185,190,195,200],"labelExpr":"datum.value % 20 === 0 ? datum.label : ''","tickSize":-33,"labelPadding":42,"title":"Events/50fb⁻¹/10GeV","titleX":-104,"titleY":-4,"titleAlign":"right","titleAngle":270,"titleBaseline":"alphabetic","titleFontSize":45,"encode":{"ticks":{"update":{"x2":[{"test":"datum.value % 20 === 0","value":33},{"value":17}]}}}}},
"y2":{"field":"cc"}}},
{"data":{"name":"nh"},"mark":{"type":"area","interpolate":"step-after","fill":{"gradient":"linear","x1":1.1045,"y1":0,"x2":-0.1668,"y2":1.0918,"stops":[
{"offset":0.0387,"color":"#f000"},{"offset":0.04,"color":"red"},{"offset":0.0413,"color":"#f000"},
{"offset":0.0487,"color":"#f000"},{"offset":0.05,"color":"red"},{"offset":0.0513,"color":"#f000"},
{"offset":0.0587,"color":"#f000"},{"offset":0.06,"color":"red"},{"offset":0.0613,"color":"#f000"},
{"offset":0.0687,"color":"#f000"},{"offset":0.07,"color":"red"},{"offset":0.0713,"color":"#f000"},
{"offset":0.0787,"color":"#f000"},{"offset":0.08,"color":"red"},{"offset":0.0813,"color":"#f000"},
{"offset":0.0887,"color":"#f000"},{"offset":0.09,"color":"red"},{"offset":0.0913,"color":"#f000"},
{"offset":0.0987,"color":"#f000"},{"offset":0.1,"color":"red"},{"offset":0.1013,"color":"#f000"},
{"offset":0.1087,"color":"#f000"},{"offset":0.11,"color":"red"},{"offset":0.1113,"color":"#f000"},
{"offset":0.1187,"color":"#f000"},{"offset":0.12,"color":"red"},{"offset":0.1213,"color":"#f000"},
{"offset":0.1287,"color":"#f000"},{"offset":0.13,"color":"red"},{"offset":0.1313,"color":"#f000"},
{"offset":0.1387,"color":"#f000"},{"offset":0.14,"color":"red"},{"offset":0.1413,"color":"#f000"},
{"offset":0.1487,"color":"#f000"},{"offset":0.15,"color":"red"},{"offset":0.1513,"color":"#f000"},
{"offset":0.1587,"color":"#f000"},{"offset":0.16,"color":"red"},{"offset":0.1613,"color":"#f000"},
{"offset":0.1687,"color":"#f000"},{"offset":0.17,"color":"red"},{"offset":0.1713,"color":"#f000"},
{"offset":0.1787,"color":"#f000"},{"offset":0.18,"color":"red"},{"offset":0.1813,"color":"#f000"},
{"offset":0.1887,"color":"#f000"},{"offset":0.19,"color":"red"},{"offset":0.1913,"color":"#f000"},
{"offset":0.1987,"color":"#f000"},{"offset":0.2,"color":"red"},{"offset":0.2013,"color":"#f000"},
{"offset":0.2087,"color":"#f000"},{"offset":0.21,"color":"red"},{"offset":0.2113,"color":"#f000"},
{"offset":0.2187,"color":"#f000"},{"offset":0.22,"color":"red"},{"offset":0.2213,"color":"#f000"},
{"offset":0.2287,"color":"#f000"},{"offset":0.23,"color":"red"},{"offset":0.2313,"color":"#f000"},
{"offset":0.2387,"color":"#f000"},{"offset":0.24,"color":"red"},{"offset":0.2413,"color":"#f000"},
{"offset":0.2487,"color":"#f000"},{"offset":0.25,"color":"red"},{"offset":0.2513,"color":"#f000"},
{"offset":0.2587,"color":"#f000"},{"offset":0.26,"color":"red"},{"offset":0.2613,"color":"#f000"},
{"offset":0.2687,"color":"#f000"},{"offset":0.27,"color":"red"},{"offset":0.2713,"color":"#f000"},
{"offset":0.2787,"color":"#f000"},{"offset":0.28,"color":"red"},{"offset":0.2813,"color":"#f000"},
{"offset":0.2887,"color":"#f000"},{"offset":0.29,"color":"red"},{"offset":0.2913,"color":"#f000"},
{"offset":0.2987,"color":"#f000"},{"offset":0.3,"color":"red"},{"offset":0.3013,"color":"#f000"},
{"offset":0.3087,"color":"#f000"},{"offset":0.31,"color":"red"},{"offset":0.3113,"color":"#f000"},
{"offset":0.3187,"color":"#f000"},{"offset":0.32,"color":"red"},{"offset":0.3213,"color":"#f000"},
{"offset":0.3287,"color":"#f000"},{"offset":0.33,"color":"red"},{"offset":0.3313,"color":"#f000"},
{"offset":0.3387,"color":"#f000"},{"offset":0.34,"color":"red"},{"offset":0.3413,"color":"#f000"},
{"offset":0.3487,"color":"#f000"},{"offset":0.35,"color":"red"},{"offset":0.3513,"color":"#f000"},
{"offset":0.3587,"color":"#f000"},{"offset":0.36,"color":"red"},{"offset":0.3613,"color":"#f000"},
{"offset":0.3687,"color":"#f000"},{"offset":0.37,"color":"red"},{"offset":0.3713,"color":"#f000"},
{"offset":0.3787,"color":"#f000"},{"offset":0.38,"color":"red"},{"offset":0.3813,"color":"#f000"},
{"offset":0.3887,"color":"#f000"},{"offset":0.39,"color":"red"},{"offset":0.3913,"color":"#f000"},
{"offset":0.3987,"color":"#f000"},{"offset":0.4,"color":"red"},{"offset":0.4013,"color":"#f000"},
{"offset":0.4087,"color":"#f000"},{"offset":0.41,"color":"red"},{"offset":0.4113,"color":"#f000"},
{"offset":0.4187,"color":"#f000"},{"offset":0.42,"color":"red"},{"offset":0.4213,"color":"#f000"},
{"offset":0.4287,"color":"#f000"},{"offset":0.43,"color":"red"},{"offset":0.4313,"color":"#f000"},
{"offset":0.4387,"color":"#f000"},{"offset":0.44,"color":"red"},{"offset":0.4413,"color":"#f000"},
{"offset":0.4487,"color":"#f000"},{"offset":0.45,"color":"red"},{"offset":0.4513,"color":"#f000"},
{"offset":0.4587,"color":"#f000"},{"offset":0.46,"color":"red"},{"offset":0.4613,"color":"#f000"},
{"offset":0.4687,"color":"#f000"},{"offset":0.47,"color":"red"},{"offset":0.4713,"color":"#f000"},
{"offset":0.4787,"color":"#f000"},{"offset":0.48,"color":"red"},{"offset":0.4813,"color":"#f000"},
{"offset":0.4887,"color":"#f000"},{"offset":0.49,"color":"red"},{"offset":0.4913,"color":"#f000"},
{"offset":0.4987,"color":"#f000"},{"offset":0.5,"color":"red"},{"offset":0.5013,"color":"#f000"},
{"offset":0.5087,"color":"#f000"},{"offset":0.51,"color":"red"},{"offset":0.5113,"color":"#f000"},
{"offset":0.5187,"color":"#f000"},{"offset":0.52,"color":"red"},{"offset":0.5213,"color":"#f000"},
{"offset":0.5287,"color":"#f000"},{"offset":0.53,"color":"red"},{"offset":0.5313,"color":"#f000"},
{"offset":0.5387,"color":"#f000"},{"offset":0.54,"color":"red"},{"offset":0.5413,"color":"#f000"},
{"offset":0.5487,"color":"#f000"},{"offset":0.55,"color":"red"},{"offset":0.5513,"color":"#f000"},
{"offset":0.5587,"color":"#f000"},{"offset":0.56,"color":"red"},{"offset":0.5613,"color":"#f000"},
{"offset":0.5687,"color":"#f000"},{"offset":0.57,"color":"red"},{"offset":0.5713,"color":"#f000"},
{"offset":0.5787,"color":"#f000"},{"offset":0.58,"color":"red"},{"offset":0.5813,"color":"#f000"},
{"offset":0.5887,"color":"#f000"},{"offset":0.59,"color":"red"},{"offset":0.5913,"color":"#f000"},
{"offset":0.5987,"color":"#f000"},{"offset":0.6,"color":"red"},{"offset":0.6013,"color":"#f000"},
{"offset":0.6087,"color":"#f000"},{"offset":0.61,"color":"red"},{"offset":0.6113,"color":"#f000"},
{"offset":0.6187,"color":"#f000"},{"offset":0.62,"color":"red"},{"offset":0.6213,"color":"#f000"},
{"offset":0.6287,"color":"#f000"},{"offset":0.63,"color":"red"},{"offset":0.6313,"color":"#f000"},
{"offset":0.6387,"color":"#f000"},{"offset":0.64,"color":"red"},{"offset":0.6413,"color":"#f000"},
{"offset":0.6487,"color":"#f000"},{"offset":0.65,"color":"red"},{"offset":0.6513,"color":"#f000"},
{"offset":0.6587,"color":"#f000"},{"offset":0.66,"color":"red"},{"offset":0.6613,"color":"#f000"},
{"offset":0.6687,"color":"#f000"},{"offset":0.67,"color":"red"},{"offset":0.6713,"color":"#f000"},
{"offset":0.6787,"color":"#f000"},{"offset":0.68,"color":"red"},{"offset":0.6813,"color":"#f000"},
{"offset":0.6887,"color":"#f000"},{"offset":0.69,"color":"red"},{"offset":0.6913,"color":"#f000"},
{"offset":0.6987,"color":"#f000"},{"offset":0.7,"color":"red"},{"offset":0.7013,"color":"#f000"},
{"offset":0.7087,"color":"#f000"},{"offset":0.71,"color":"red"},{"offset":0.7113,"color":"#f000"},
{"offset":0.7187,"color":"#f000"},{"offset":0.72,"color":"red"},{"offset":0.7213,"color":"#f000"},
{"offset":0.7287,"color":"#f000"},{"offset":0.73,"color":"red"},{"offset":0.7313,"color":"#f000"},
{"offset":0.7387,"color":"#f000"},{"offset":0.74,"color":"red"},{"offset":0.7413,"color":"#f000"},
{"offset":0.7487,"color":"#f000"},{"offset":0.75,"color":"red"},{"offset":0.7513,"color":"#f000"},
{"offset":0.7587,"color":"#f000"},{"offset":0.76,"color":"red"},{"offset":0.7613,"color":"#f000"},
{"offset":0.7687,"color":"#f000"},{"offset":0.77,"color":"red"},{"offset":0.7713,"color":"#f000"},
{"offset":0.7787,"color":"#f000"},{"offset":0.78,"color":"red"},{"offset":0.7813,"color":"#f000"},
{"offset":0.7887,"color":"#f000"},{"offset":0.79,"color":"red"},{"offset":0.7913,"color":"#f000"},
{"offset":0.7987,"color":"#f000"},{"offset":0.8,"color":"red"},{"offset":0.8013,"color":"#f000"},
{"offset":0.8087,"color":"#f000"},{"offset":0.81,"color":"red"},{"offset":0.8113,"color":"#f000"},
{"offset":0.8187,"color":"#f000"},{"offset":0.82,"color":"red"},{"offset":0.8213,"color":"#f000"},
{"offset":0.8287,"color":"#f000"},{"offset":0.83,"color":"red"},{"offset":0.8313,"color":"#f000"},
{"offset":0.8387,"color":"#f000"},{"offset":0.84,"color":"red"},{"offset":0.8413,"color":"#f000"},
{"offset":0.8487,"color":"#f000"},{"offset":0.85,"color":"red"},{"offset":0.8513,"color":"#f000"},
{"offset":0.8587,"color":"#f000"},{"offset":0.86,"color":"red"},{"offset":0.8613,"color":"#f000"},
{"offset":0.8687,"color":"#f000"},{"offset":0.87,"color":"red"},{"offset":0.8713,"color":"#f000"},
{"offset":0.8787,"color":"#f000"},{"offset":0.88,"color":"red"},{"offset":0.8813,"color":"#f000"},
{"offset":0.8887,"color":"#f000"},{"offset":0.89,"color":"red"},{"offset":0.8913,"color":"#f000"}
]}},
"encoding":{"x":{"field":"e","type":"quantitative"},"y":{"field":"cc","type":"quantitative"}}},
{"data":{"name":"nh"},"mark":{"type":"line","interpolate":"step-after","strokeWidth":2},
"encoding":{"x":{"field":"e","type":"quantitative"},"y":{"field":"tot","type":"quantitative"},
"stroke":{"datum":"NCbkg","type":"nominal","scale":{"domain":["higgs+bkg","CCbkg","NCbkg"],"range":["#1f1f9a","red","blue"]},
"legend":{"orient":"none","legendX":793,"legendY":8,"direction":"vertical","title":null,"padding":0,"labelFont":"Liberation Sans","labelFontSize":44,"labelColor":"black","labelLimit":0,"labelOffset":11,"labelBaseline":"middle","rowPadding":12,"symbolSize":2304,"symbolStrokeWidth":2,
"encode":{"symbols":{"update":{
"shape":[{"test":"datum.value === 'higgs+bkg'","value":"M-1,0H1M-0.28,0A0.28,0.28 0 1 0 0.28,0A0.28,0.28 0 1 0 -0.28,0Z"},{"value":"square"}],
"size":{"value":2304},"strokeWidth":{"value":2},"opacity":{"value":1},"fillOpacity":{"value":1},"strokeOpacity":{"value":1},
"stroke":[{"test":"datum.value === 'higgs+bkg'","value":"#1f1f9a"},{"test":"datum.value === 'CCbkg'","value":"red"},{"value":"blue"}],
"fill":[{"test":"datum.value === 'higgs+bkg'","value":"black"},
{"test":"datum.value === 'CCbkg'","value":{"gradient":"linear","x1":1,"y1":0,"x2":0.397,"y2":1.656,"stops":[{"offset":0.037,"color":"#f000"},{"offset":0.05,"color":"red"},{"offset":0.063,"color":"#f000"},{"offset":0.137,"color":"#f000"},{"offset":0.15,"color":"red"},{"offset":0.163,"color":"#f000"},{"offset":0.237,"color":"#f000"},{"offset":0.25,"color":"red"},{"offset":0.263,"color":"#f000"},{"offset":0.337,"color":"#f000"},{"offset":0.35,"color":"red"},{"offset":0.363,"color":"#f000"},{"offset":0.437,"color":"#f000"},{"offset":0.45,"color":"red"},{"offset":0.463,"color":"#f000"},{"offset":0.537,"color":"#f000"},{"offset":0.55,"color":"red"},{"offset":0.563,"color":"#f000"},{"offset":0.637,"color":"#f000"},{"offset":0.65,"color":"red"},{"offset":0.663,"color":"#f000"}]}},
{"value":{"gradient":"linear","x1":0,"y1":0,"x2":0.8375,"y2":2.301,"stops":[{"offset":0.0406,"color":"#00f0"},{"offset":0.05,"color":"blue"},{"offset":0.0594,"color":"#00f0"},{"offset":0.1406,"color":"#00f0"},{"offset":0.15,"color":"blue"},{"offset":0.1594,"color":"#00f0"},{"offset":0.2406,"color":"#00f0"},{"offset":0.25,"color":"blue"},{"offset":0.2594,"color":"#00f0"},{"offset":0.3406,"color":"#00f0"},{"offset":0.35,"color":"blue"},{"offset":0.3594,"color":"#00f0"},{"offset":0.4406,"color":"#00f0"},{"offset":0.45,"color":"blue"},{"offset":0.4594,"color":"#00f0"}]}}]
}}}}}}},
{"data":{"name":"nh"},"mark":{"type":"line","interpolate":"step-after","strokeWidth":2.5},
"encoding":{"x":{"field":"e","type":"quantitative"},"y":{"field":"cc","type":"quantitative"},"stroke":{"datum":"CCbkg","type":"nominal"}}},
{"data":{"name":"np"},"transform":[{"filter":"datum.n > 0"}],"mark":{"type":"rule","strokeWidth":2},
"encoding":{"x":{"field":"l","type":"quantitative"},"x2":{"field":"r"},"y":{"field":"n","type":"quantitative"},"stroke":{"datum":"higgs+bkg","type":"nominal"}}},
{"data":{"name":"np"},"transform":[{"filter":"datum.n > 0"}],"mark":{"type":"rule","strokeWidth":2},
"encoding":{"x":{"field":"c","type":"quantitative"},"y":{"field":"lo","type":"quantitative"},"y2":{"field":"hi"},"stroke":{"datum":"higgs+bkg","type":"nominal"}}}
]},
{"data":{"name":"np"},"mark":{"type":"point","shape":"circle","filled":true,"color":"black","size":155,"opacity":1,"strokeWidth":0},
"encoding":{
"x":{"field":"c","type":"quantitative","scale":{"domain":[0,200]},"axis":{"orient":"top","title":"jj,H","titleX":965,"titleY":858,"titleAlign":"right","titleBaseline":"alphabetic","titleFontSize":40,"domain":false,"ticks":false,"labels":false}},
"y":{"field":"n","type":"quantitative","scale":{"domain":[0,200]},"axis":{"orient":"right","title":"M","titleAngle":0,"titleX":-213,"titleY":849,"titleAlign":"right","titleBaseline":"alphabetic","titleFontSize":58,"domain":false,"ticks":false,"labels":false}}}}
]
}
],
"config":{
"view":{"stroke":"black","strokeWidth":2},
"font":"Liberation Sans",
"axis":{"grid":false,"domainColor":"black","domainWidth":2,"tickColor":"black","tickWidth":2,"labelColor":"black","labelFont":"Liberation Sans","labelFontSize":42,"titleColor":"black","titleFont":"Liberation Sans","titleFontWeight":"normal","labelOverlap":false,"labelFlush":false},
"title":{"font":"Roboto","fontWeight":300,"fontSize":80,"color":"black","frame":"group","anchor":"middle","baseline":"alphabetic","offset":12}
}
}
